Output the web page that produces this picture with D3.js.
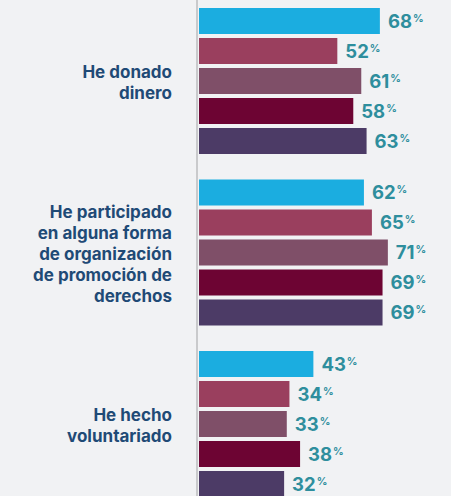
<!DOCTYPE html>
<html>
<head>
<meta charset="utf-8">
<script src="https://cdn.jsdelivr.net/npm/d3@7"></script>
<style>
  html, body { margin: 0; padding: 0; background: #f1f2f4; }
  svg { display: block; }
  .cat { font-family: Inter, sans-serif; font-weight: 700; font-size: 17px; fill: #1f4a76; }
  .val { font-family: Inter, sans-serif; font-weight: 700; font-size: 18.5px; fill: #2e8e9d; }
  .val tspan.pct { font-size: 10.5px; }
</style>
</head>
<body>
<svg></svg>
<script>
const WIDTH = 451;
const HEIGHT = 496;

// categories (each label is split into its wrapped lines)
const categories = ['He donado dinero', 'He participado en alguna forma de organización de promoción de derechos', 'He hecho voluntariado'];
const categoryLines = [
  ['He donado', 'dinero'],
  ['He participado', 'en alguna forma', 'de organización', 'de promoción de', 'derechos'],
  ['He hecho', 'voluntariado']
];
const series = ['s1', 's2', 's3', 's4', 's5'];
const colors = ['#1bade0', '#9a3f5e', '#7f4f68', '#6d0433', '#4c3b66'];

// values per series, in category order
const s1 = [68, 62, 43];
const s2 = [52, 65, 34];
const s3 = [61, 71, 33];
const s4 = [58, 69, 38];
const s5 = [63, 69, 32];
const values = [s1, s2, s3, s4, s5];

const svg = d3.select('svg').attr('width', WIDTH).attr('height', HEIGHT);

const x = d3.scaleLinear().domain([0, 100]).range([199, 465]);

// group step 171.5, group height 146
const y0 = d3.scaleBand()
  .domain(categories)
  .range([8, 8 + 2 * 171.5 + 146])
  .paddingInner(25.5 / 171.5)
  .paddingOuter(0);

const y1 = d3.scaleBand()
  .domain(series)
  .range([0, y0.bandwidth()])
  .paddingInner(4 / 30)
  .paddingOuter(0);

const groups = svg.selectAll('g.group')
  .data(categories)
  .enter()
  .append('g')
  .attr('class', 'group')
  .attr('transform', d => `translate(0,${y0(d)})`);

groups.each(function(cat, ci) {
  const g = d3.select(this);
  const rows = series.map((s, si) => ({s, si, v: values[si][ci]}));

  g.selectAll('rect')
    .data(rows)
    .enter()
    .append('rect')
    .attr('x', x(0))
    .attr('y', d => y1(d.s))
    .attr('width', d => x(d.v) - x(0))
    .attr('height', y1.bandwidth())
    .attr('fill', d => colors[d.si]);

  const lbl = g.selectAll('text.val')
    .data(rows)
    .enter()
    .append('text')
    .attr('class', 'val')
    .attr('x', d => x(d.v) + 8)
    .attr('y', d => y1(d.s) + y1.bandwidth() / 2 + 6.5);
  lbl.append('tspan').text(d => d.v);
  lbl.append('tspan').attr('class', 'pct').attr('dy', -6).attr('dx', 1).text('%');

  // category label, vertically centred on the group
  const lines = categoryLines[ci];
  const lh = 21;
  const mid = y0.bandwidth() / 2;
  const t = g.append('text')
    .attr('class', 'cat')
    .attr('text-anchor', 'end');
  t.selectAll('tspan')
    .data(lines)
    .enter()
    .append('tspan')
    .attr('x', 172)
    .attr('y', (d, i) => mid + (i - (lines.length - 1) / 2) * lh + 7)
    .text(d => d);
});

// vertical axis line
svg.append('line')
  .attr('x1', 197).attr('x2', 197)
  .attr('y1', 0).attr('y2', HEIGHT)
  .attr('stroke', '#c9cacc')
  .attr('stroke-width', 2);
</script>
</body>
</html>
